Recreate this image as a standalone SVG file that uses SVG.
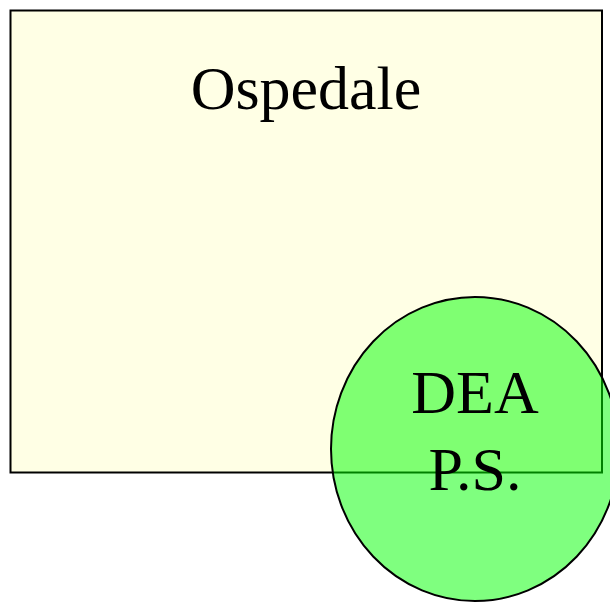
<svg xmlns="http://www.w3.org/2000/svg" width="610" height="602" viewBox="0 0 610 602">
<style>
.lbl{font-family:"Liberation Serif","Times New Roman",serif;font-size:62px;fill:#000;text-anchor:middle}
</style>
<rect width="610" height="602" fill="#fff"/>
<g id="ospedale">
<rect x="10.5" y="10.5" width="591.5" height="462" fill="#ffffe5" stroke="#000" stroke-width="2"/>
<text class="lbl" x="306" y="109">Ospedale</text>
</g>
<g id="dea">
<ellipse cx="475" cy="449" rx="144" ry="152" fill="#00ff00" fill-opacity="0.5" stroke="#000" stroke-width="2"/>
<text class="lbl" x="475" y="413">DEA</text>
<text class="lbl" x="475" y="490">P.S.</text>
</g>
<g id="connectors"/>
</svg>
